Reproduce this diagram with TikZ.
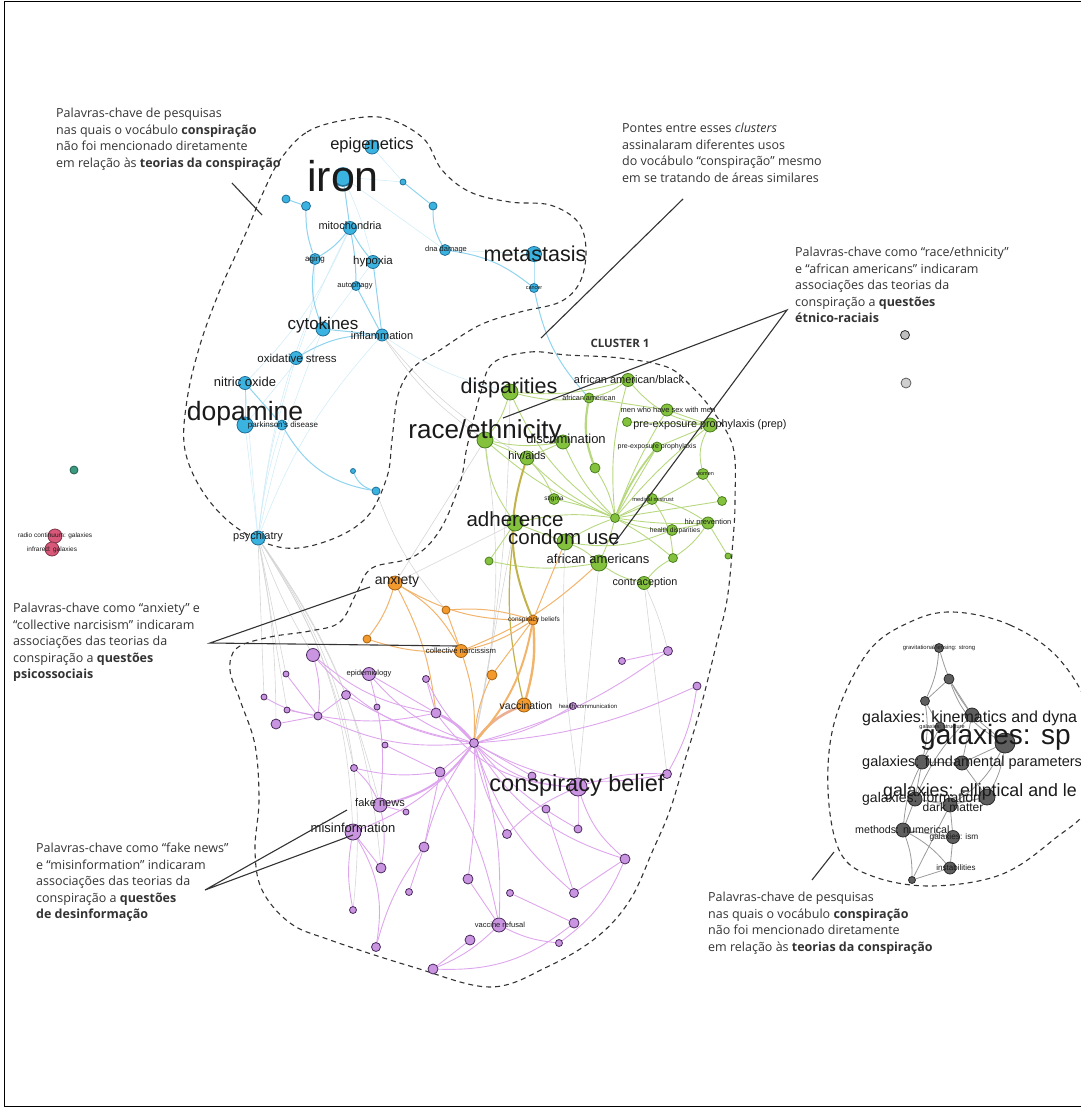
\documentclass[tikz,border=0pt]{standalone}
\usepackage{fontspec}
\setmainfont{Open Sans}
\newfontfamily\netfont{Liberation Sans}
\usetikzlibrary{backgrounds}

\definecolor{nodeB}{HTML}{3BB3E0}
\definecolor{nodeBd}{HTML}{1F6F98}
\definecolor{nodeG}{HTML}{84C23E}
\definecolor{nodeGd}{HTML}{4A7F20}
\definecolor{nodeO}{HTML}{F39A2E}
\definecolor{nodeOd}{HTML}{A8620F}
\definecolor{nodeP}{HTML}{C994E0}
\definecolor{nodePd}{HTML}{4A2A5E}
\definecolor{nodeK}{HTML}{5E5E5E}
\definecolor{nodeKd}{HTML}{2A2A2A}
\definecolor{nodeR}{HTML}{D9587A}
\definecolor{nodeT}{HTML}{3A9B80}
\definecolor{edgeB}{HTML}{8FD3EE}
\definecolor{edgeG}{HTML}{B7D87F}
\definecolor{edgeY}{HTML}{C2B24A}
\definecolor{edgeO}{HTML}{F2B36B}
\definecolor{edgeP}{HTML}{DDA6ED}
\definecolor{edgeK}{HTML}{9A9A9A}
\definecolor{edgeX}{HTML}{D6D6D6}
\definecolor{labtext}{HTML}{1A1A1A}
\definecolor{notetext}{HTML}{333333}

\begin{document}
\begin{tikzpicture}[x=1pt,y=-1pt,
    kw/.style={circle, inner sep=0pt, minimum size=#1, line width=0.8pt},
    kwB/.style={kw=#1, fill=nodeB, draw=nodeBd},
    kwG/.style={kw=#1, fill=nodeG, draw=nodeGd},
    kwO/.style={kw=#1, fill=nodeO, draw=nodeOd},
    kwP/.style={kw=#1, fill=nodeP, draw=nodePd},
    kwK/.style={kw=#1, fill=nodeK, draw=nodeKd},
    kwR/.style={kw=#1, fill=nodeR, draw=nodeR!60!black},
    lab/.style={font=\netfont\fontsize{#1}{#1}\selectfont, inner sep=0pt, text=labtext},
    note/.style={font=\fontsize{12.5}{16.5}\selectfont, align=left, anchor=north west, inner sep=0pt, text=notetext},
    pointer/.style={draw=notetext, line width=1.1pt},
    hull/.style={draw=notetext, line width=1.1pt, dash pattern=on 5pt off 4pt},
    eB/.style={draw=edgeB, line width=1pt},
    eBf/.style={draw=edgeB!45, line width=0.5pt},
    eG/.style={draw=edgeG, line width=0.9pt},
    eO/.style={draw=edgeO, line width=1pt},
    eP/.style={draw=edgeP, line width=0.9pt},
    eK/.style={draw=edgeK, line width=0.8pt},
    eX/.style={draw=edgeX, line width=0.6pt}]

    \clip (0,0) rectangle (1081,1108);
    \draw[line width=1pt] (1081,2) -- (4,2) -- (4,1106) -- (1081,1106);

    % --- cluster hulls ---
    \draw[hull] plot[smooth cycle, tension=0.6] coordinates {(280,160) (307,132) (345,120) (385,118) (423,138) (442,170) (470,192) (510,202) (550,205) (578,222) (586,250) (580,282) (560,302) (520,312) (480,325) (440,350) (413,368) (398,395) (392,440) (387,477) (367,517) (330,540) (285,548) (240,530) (205,495) (185,450) (187,400) (200,345) (220,290) (245,235) (262,195)};
    \draw[hull] plot[smooth cycle, tension=0.6] coordinates {(493,363) (530,352) (567,355) (620,358) (667,367) (690,385) (712,410) (733,447) (735,500) (733,540) (727,600) (715,650) (700,710) (685,760) (670,810) (653,850) (630,900) (597,937) (547,967) (490,987) (413,967) (330,940) (290,923) (262,890) (255,850) (259,800) (255,745) (240,700) (230,670) (237,648) (270,637) (310,631) (340,622) (357,592) (372,568) (413,557) (440,530) (460,483) (467,447) (480,395)};
    \draw[hull] plot[smooth cycle, tension=0.6] coordinates {(953,612) (1010,625) (1060,660) (1092,720) (1092,800) (1053,840) (1000,875) (930,886) (872,876) (840,852) (828,790) (835,720) (868,652) (910,622)};

    % --- blue cluster ---
    \node[kwB=14] (epigen) at (372,147) {};
    \node[kwB=18, line width=1.6pt] (iron) at (343,177) {};
    \node[kwB=8] (bA) at (286,199) {};
    \node[kwB=9] (bB) at (306,206) {};
    \node[kwB=6] (bC) at (403,182) {};
    \node[kwB=8] (bD) at (433,206) {};
    \node[kwB=11] (dna) at (445,250) {};
    \node[kwB=13] (mito) at (350,228) {};
    \node[kwB=11] (aging) at (315,259) {};
    \node[kwB=13] (hypox) at (373,262) {};
    \node[kwB=9] (autoph) at (356,286) {};
    \node[kwB=14] (cytok) at (323,329) {};
    \node[kwB=12] (inflam) at (382,335) {};
    \node[kwB=13] (oxid) at (296,358) {};
    \node[kwB=13] (nitric) at (245,383) {};
    \node[kwB=16] (dopa) at (245,425) {};
    \node[kwB=10] (parkin) at (282,425) {};
    \node[kwB=15] (metast) at (534,254) {};
    \node[kwB=9] (cancer) at (534,288) {};
    \node[kwB=5] (bE) at (353,471) {};
    \node[kwB=8] (bF) at (376,491) {};
    \node[kwB=14] (psych) at (258,538) {};

    % --- isolated nodes ---
    \node[kw=8, fill=nodeT, draw=nodeT!60!black] (tealA) at (74,470) {};
    \node[kwR=14] (radio) at (55,536) {};
    \node[kwR=14] (infra) at (52,549) {};
    \node[kw=9, fill=nodeK!40, draw=nodeKd] (isoA) at (905,335) {};
    \node[kw=10, fill=nodeK!30, draw=nodeK] (isoB) at (906,383) {};

    % --- green cluster ---
    \node[kwG=16] (disp) at (510,392) {};
    \node[kwG=13] (aablk) at (628,380) {};
    \node[kwG=10] (aam) at (589,398) {};
    \node[kwG=12] (msmw) at (667,410) {};
    \node[kwG=9] (gA) at (627,422) {};
    \node[kwG=14] (prepL) at (710,425) {};
    \node[kwG=16] (race) at (485,440) {};
    \node[kwG=14] (discr) at (563,442) {};
    \node[kwG=10] (prepS) at (657,447) {};
    \node[kwG=14] (aids) at (527,458) {};
    \node[kwG=10] (msm) at (595,468) {};
    \node[kwG=11] (women) at (703,474) {};
    \node[kwG=11] (stigma) at (554,499) {};
    \node[kwG=11] (mistr) at (652,499) {};
    \node[kwG=9] (gB) at (722,501) {};
    \node[kwG=9] (hivH) at (615,518) {};
    \node[kwG=16] (adher) at (515,523) {};
    \node[kwG=16] (condom) at (565,542) {};
    \node[kwG=11] (hdisp) at (672,530) {};
    \node[kwG=12] (hivprev) at (708,523) {};
    \node[kwG=8] (gC) at (489,561) {};
    \node[kwG=16] (aams) at (599,563) {};
    \node[kwG=9] (gD) at (673,558) {};
    \node[kwG=6] (gE) at (728,556) {};
    \node[kwG=13] (contra) at (644,583) {};

    % --- orange cluster ---
    \node[kwO=14] (anx) at (395,583) {};
    \node[kwO=8] (oA) at (446,610) {};
    \node[kwO=8] (oB) at (367,639) {};
    \node[kwO=10] (cbs) at (533,620) {};
    \node[kwO=13] (narc) at (461,651) {};
    \node[kwO=10] (oC) at (492,675) {};
    \node[kwO=14] (vacc) at (524,705) {};

    % --- purple cluster ---
    \node[kwP=13] (paran) at (313,655) {};
    \node[kwP=13] (epid) at (369,674) {};
    \node[kwP=6] (pA) at (286,674) {};
    \node[kwP=7] (pB) at (426,679) {};
    \node[kwP=6] (pC) at (264,697) {};
    \node[kwP=9] (pD) at (346,695) {};
    \node[kwP=6] (pE) at (377,707) {};
    \node[kwP=6] (pF) at (287,710) {};
    \node[kwP=8] (pG) at (318,716) {};
    \node[kwP=10] (pH) at (276,724) {};
    \node[kwP=10] (pI) at (436,713) {};
    \node[kwP=9] (pHub) at (474,743) {};
    \node[kwP=6] (pJ) at (385,745) {};
    \node[kwP=7] (pK) at (354,768) {};
    \node[kwP=10] (pL) at (440,772) {};
    \node[kwP=8] (pM) at (532,776) {};
    \node[kwP=18] (cbel) at (578,787) {};
    \node[kwP=9] (pN) at (667,774) {};
    \node[kwP=14] (fake) at (380,805) {};
    \node[kwP=6] (pO) at (406,812) {};
    \node[kwP=8] (pQ) at (546,809) {};
    \node[kwP=16] (misinf) at (353,832) {};
    \node[kwP=9] (pR) at (507,834) {};
    \node[kwP=8] (pS) at (578,829) {};
    \node[kwP=10] (pT) at (424,847) {};
    \node[kwP=10] (pU) at (625,859) {};
    \node[kwP=10] (pV) at (381,868) {};
    \node[kwP=10] (pW) at (468,879) {};
    \node[kwP=7] (pX) at (409,892) {};
    \node[kwP=7] (pY) at (510,893) {};
    \node[kwP=9] (pZ) at (574,893) {};
    \node[kwP=7] (pAA) at (353,910) {};
    \node[kwP=14] (vaxref) at (499,925) {};
    \node[kwP=10] (pAB) at (574,923) {};
    \node[kwP=10] (pAC) at (470,940) {};
    \node[kwP=7] (pAD) at (559,943) {};
    \node[kwP=9] (pAE) at (376,947) {};
    \node[kwP=10] (pAF) at (433,969) {};
    \node[kwP=9] (pAG) at (668,651) {};
    \node[kwP=7] (pAH) at (622,661) {};
    \node[kwP=8] (pAI) at (697,686) {};
    \node[kwP=7] (hcomm) at (573,706) {};

    % --- gray cluster ---
    \node[kwK=9] (grav) at (939,648) {};
    \node[kwK=10] (kA) at (949,679) {};
    \node[kwK=9] (kB) at (925,701) {};
    \node[kwK=14] (kinem) at (972,715) {};
    \node[kwK=10] (gstruct) at (940,727) {};
    \node[kwK=20] (gsp) at (1005,743) {};
    \node[kwK=14] (fund) at (922,762) {};
    \node[kwK=14] (kC) at (962,763) {};
    \node[kwK=16] (ellip) at (987,797) {};
    \node[kwK=14] (form) at (915,799) {};
    \node[kwK=14] (dark) at (950,805) {};
    \node[kwK=14] (meth) at (903,830) {};
    \node[kwK=13] (ism) at (953,837) {};
    \node[kwK=12] (instab) at (950,868) {};
    \node[kwK=7] (kD) at (912,880) {};

    % --- edges ---
    \begin{pgfonlayer}{background}
        \foreach \a/\b/\c in {psych/pA/0, psych/pC/0, psych/pH/5, psych/pF/0, psych/pK/10, psych/fake/10,
            psych/misinf/15, psych/paran/-5, race/pHub/10, disp/pHub/5, race/anx/0, adher/anx/0,
            aams/cbel/0, contra/pN/0, psych/pAA/20, psych/pV/15, inflam/aids/-10, inflam/race/-10,
            bF/oA/-10, adher/pHub/0, condom/cbel/-5, contra/pAG/5}
            \draw[eX] (\a) to[bend left=\c] (\b);
        \foreach \a/\b/\c in {psych/oxid/5, psych/cytok/5, psych/nitric/0, psych/dopa/0, psych/parkin/5,
            psych/inflam/10, psych/mito/10, cytok/hypox/0, nitric/mito/-10, dopa/cytok/0, iron/dna/0,
            iron/hypox/5, epigen/bC/0, inflam/disp/-10, metast/dna/0, iron/bC/0, aging/oxid/10}
            \draw[eBf] (\a) to[bend left=\c] (\b);
        \foreach \a/\b/\c in {iron/mito/0, bA/bB/0, bB/aging/-10, mito/aging/10, mito/hypox/-5,
            mito/autoph/5, hypox/inflam/0, autoph/inflam/0, cytok/inflam/0, aging/cytok/-15,
            bC/bD/0, bD/dna/-15, dna/cancer/15, cancer/metast/0, inflam/oxid/-15, nitric/dopa/0,
            nitric/parkin/0, parkin/bF/-25, bE/bF/-25, dopa/parkin/0, cancer/aam/-15}
            \draw[eB] (\a) to[bend left=\c] (\b);
        \foreach \a/\b/\c in {hivH/prepL/5, hivH/msmw/5, hivH/prepS/0, hivH/women/-5, hivH/mistr/0,
            hivH/hivprev/-5, hivH/hdisp/-10, hivH/aams/5, hivH/condom/-5, hivH/stigma/-5, hivH/msm/-10,
            hivH/aids/10, hivH/aablk/10, hivH/gB/0, hivH/discr/10, hivH/disp/15, hivH/race/10,
            hivH/adher/-10, hivH/gD/5, aids/discr/0, race/discr/-10, race/aids/0, disp/aam/-10,
            aam/aablk/-10, aablk/prepL/-20, msmw/prepL/0, gA/prepL/0, msmw/aam/0, condom/aams/10,
            adher/condom/0, aams/contra/-10, condom/hdisp/-15, hdisp/hivprev/0, gD/hivprev/-10,
            gE/hivprev/0, women/gB/0, mistr/gD/15, stigma/aids/-10, gC/adher/0, gC/aams/-10,
            race/adher/-15, disp/race/10, women/prepL/20, mistr/hivprev/10, prepS/prepL/0,
            aablk/disp/10, contra/gD/10}
            \draw[eG] (\a) to[bend left=\c] (\b);
        \draw[eG, line width=2.2pt] (msm) to[bend left=15] (aam);
        \draw[eG, line width=1.8pt] (hivH) to[bend left=8] (prepS);
        \draw[draw=edgeY, line width=2pt] (aids) to[bend right=20] (cbs);
        \draw[draw=edgeY, line width=1.2pt] (adher) to[bend right=10] (vacc);
        \foreach \a/\b/\c in {cbs/narc/10, cbs/oA/-10, cbs/oC/0, anx/narc/15, anx/cbs/-15,
            narc/pHub/10, oC/pHub/-10, oB/narc/-10, anx/oB/10, oA/narc/0, anx/pI/10,
            cbs/condom/0, narc/aams/-10}
            \draw[eO] (\a) to[bend left=\c] (\b);
        \draw[eO, line width=2.4pt] (cbs) to[bend left=10] (vacc);
        \draw[draw=edgeO!70!edgeP, line width=2.6pt] (vacc) to[bend left=-15] (pHub);
        \draw[eO, line width=2pt] (cbs) to[bend left=15] (pHub);
        \foreach \a/\b/\c in {pHub/misinf/15, pHub/cbel/-20, pHub/vaxref/10, pHub/pW/5, pHub/epid/15,
            pHub/pB/10, pHub/paran/20, pHub/pT/-10, pHub/pL/0, pHub/pR/-10, pHub/pZ/-15, pHub/pU/-20,
            pHub/pN/-20, pHub/pD/10, pHub/pG/15, pHub/pM/0, pHub/pS/-10, pHub/pAG/-10, pHub/pAI/-10,
            pHub/hcomm/-10, pI/pB/0, pI/paran/15, pI/pG/10, pG/pA/0, pG/pC/10, pG/pF/0, pG/pD/0,
            paran/pG/10, epid/pI/0, pL/pT/0, fake/pV/10, misinf/pV/0, misinf/pAA/-10, pW/vaxref/0,
            vaxref/pAF/10, vaxref/pAD/-10, pZ/pU/0, cbel/pN/10, cbel/pS/0, pQ/pZ/0, pAE/pT/10,
            pX/pT/0, pY/pAB/0, pAC/pAF/0, pK/fake/10, pH/pG/0, pK/pL/-10, pJ/pL/0, pO/fake/0,
            pR/cbel/10, pU/cbel/15, pAE/misinf/-20, pAF/pAB/-20, pAD/pU/-15, pAH/pAG/0,
            pAI/pN/10, pI/cbel/-25, pL/vaxref/10, epid/fake/10}
            \draw[eP] (\a) to[bend left=\c] (\b);
        \draw[eP, line width=2.6pt] (pHub) to[bend left=-12] (pI);
        \draw[eP, line width=2pt] (pHub) to[bend left=20] (fake);
        \foreach \a/\b/\c in {grav/kB/10, grav/kinem/-10, kA/kB/0, kA/kinem/0, kA/gsp/-20,
            kB/gstruct/0, kinem/gsp/0, gstruct/fund/0, fund/kC/0, fund/form/0, kC/ellip/0,
            ellip/dark/0, form/meth/0, form/dark/0, dark/ism/0, meth/instab/10, ism/instab/0,
            gsp/ellip/10, fund/meth/-10, kinem/kC/0, gsp/kC/0, meth/ism/0, form/ellip/-10,
            dark/kD/0, meth/kD/10, kB/fund/10, gsp/dark/15, kinem/form/-10, instab/kD/0}
            \draw[eK] (\a) to[bend left=\c] (\b);
    \end{pgfonlayer}

    % --- keyword labels ---
    \node[lab=16.5] (Lepigen) at (372,145) {epigenetics};
    \node[lab=43] (Liron) at (343,176) {iron};
    \node[lab=7.5] (Ldna) at (446,250) {dna damage};
    \node[lab=11] (Lmito) at (350,226) {mitochondria};
    \node[lab=8] (Laging) at (315,259) {aging};
    \node[lab=11.5] (Lhypox) at (373,262) {hypoxia};
    \node[lab=7.5] (Lautoph) at (355,286) {autophagy};
    \node[lab=17] (Lcytok) at (323,325) {cytokines};
    \node[lab=11] (Linflam) at (382,336) {inflammation};
    \node[lab=11.5] (Loxid) at (297,358) {oxidative stress};
    \node[lab=13] (Lnitric) at (245,382) {nitric oxide};
    \node[lab=26.5] (Ldopa) at (245,414) {dopamine};
    \node[lab=8] (Lparkin) at (283,425) {parkinson's disease};
    \node[lab=21.5] (Lmetast) at (535,254) {metastasis};
    \node[lab=5.5] (Lcancer) at (534,288) {cancer};
    \node[lab=11] (Lpsych) at (258,537) {psychiatry};
    \node[lab=6.5] (Lradio) at (55,536) {radio continuum: galaxies};
    \node[lab=6.5] (Linfra) at (52,550) {infrared: galaxies};

    \node[lab=21.5] (Ldisp) at (509,388) {disparities};
    \node[lab=11] (Laablk) at (629,380) {african american/black};
    \node[lab=7.2] (Laam) at (589,398) {african american};
    \node[lab=7.5] (Lmsmw) at (668,410) {men who have sex with men};
    \node[lab=10.8] (LprepL) at (710,425) {pre-exposure prophylaxis (prep)};
    \node[lab=26] (Lrace) at (485,432) {race/ethnicity};
    \node[lab=13] (Ldiscr) at (566,439) {discrimination};
    \node[lab=7] (LprepS) at (657,447) {pre-exposure prophylaxis};
    \node[lab=11] (Laids) at (527,456) {hiv/aids};
    \node[lab=5.5] (Lwomen) at (705,474) {women};
    \node[lab=6.5] (Lstigma) at (554,499) {stigma};
    \node[lab=5.7] (Lmistr) at (653,499) {medical mistrust};
    \node[lab=20.5] (Ladher) at (515,519) {adherence};
    \node[lab=20.5] (Lcondom) at (564,537) {condom use};
    \node[lab=6.7] (Lhdisp) at (675,531) {health disparities};
    \node[lab=7.5] (Lhivprev) at (708,523) {hiv prevention};
    \node[lab=13] (Laams) at (598,559) {african americans};
    \node[lab=10.8] (Lcontra) at (645,583) {contraception};

    \node[lab=14] (Lanx) at (397,581) {anxiety};
    \node[lab=6.5] (Lcbs) at (534,620) {conspiracy beliefs};
    \node[lab=7.7] (Lnarc) at (461,651) {collective narcissism};
    \node[lab=10.5] (Lvacc) at (526,706) {vaccination};
    \node[lab=6] (Lhcomm) at (588,706) {health communication};
    \node[lab=7.6] (Lepid) at (369,674) {epidemiology};
    \node[lab=23.5] (Lcbel) at (577,785) {conspiracy belief};
    \node[lab=11] (Lfake) at (380,803) {fake news};
    \node[lab=13] (Lmisinf) at (353,828) {misinformation};
    \node[lab=7.5] (Lvaxref) at (500,925) {vaccine refusal};

    \node[lab=5.9] (Lgrav) at (939,648) {gravitational lensing: strong};
    \node[lab=16, anchor=west] (Lkinem) at (862,718) {galaxies: kinematics and dyna};
    \node[lab=5.5] (Lgstruct) at (942,727) {galaxies: structure};
    \node[lab=28, anchor=west] (Lgsp) at (920,737) {galaxies: sp};
    \node[lab=14.5, anchor=west] (Lfund) at (862,763) {galaxies: fundamental parameters};
    \node[lab=17.8, anchor=west] (Lellip) at (883,792) {galaxies: elliptical and le};
    \node[lab=14, anchor=west] (Lform) at (862,799) {galaxies: formation};
    \node[lab=12] (Ldark) at (953,807) {dark matter};
    \node[lab=10.7, anchor=west] (Lmeth) at (855,830) {methods: numerical};
    \node[lab=8.3] (Lism) at (954,837) {galaxies: ism};
    \node[lab=8] (Linstab) at (956,868) {instabilities};

    \node[font=\bfseries\fontsize{11.5}{12}\selectfont, text=notetext, inner sep=0pt] (clusterA) at (620,343) {CLUSTER 1};

    % --- annotations ---
    \node[note] (noteTL) at (56,108) {Palavras-chave de pesquisas\\nas quais o vocábulo \textbf{conspiração}\\não foi mencionado diretamente\\em relação às \textbf{teorias da conspiração}};
    \node[note] (noteBridge) at (622,123) {Pontes entre esses \textit{clusters}\\assinalaram diferentes usos\\do vocábulo “conspiração” mesmo\\em se tratando de áreas similares};
    \node[note] (noteRace) at (795,247) {Palavras-chave como “race/ethnicity”\\e “african americans” indicaram\\associações das teorias da\\conspiração a \textbf{questões}\\\textbf{étnico-raciais}};
    \node[note] (notePsy) at (13,603) {Palavras-chave como “anxiety” e\\“collective narcisism” indicaram\\associações das teorias da\\conspiração a \textbf{questões}\\\textbf{psicossociais}};
    \node[note] (noteFake) at (36,843) {Palavras-chave como “fake news”\\e “misinformation” indicaram\\associações das teorias da\\conspiração a \textbf{questões}\\\textbf{de desinformação}};
    \node[note] (noteBR) at (708,892) {Palavras-chave de pesquisas\\nas quais o vocábulo \textbf{conspiração}\\não foi mencionado diretamente\\em relação às \textbf{teorias da conspiração}};

    \coordinate (tlA) at (232,183);
    \coordinate (tlB) at (262,215);
    \coordinate (brA) at (683,199);
    \coordinate (brB) at (541,338);
    \coordinate (raceTip) at (787,310);
    \coordinate (raceA) at (503,418);
    \coordinate (raceB) at (613,545);
    \coordinate (psyTip) at (210,643);
    \coordinate (psyA) at (370,587);
    \coordinate (psyB) at (457,646);
    \coordinate (fakeTip) at (205,890);
    \coordinate (fakeA) at (347,810);
    \coordinate (fakeB) at (353,835);
    \coordinate (gxA) at (834,852);
    \coordinate (gxB) at (812,880);

    \draw[pointer] (tlA) -- (tlB);
    \draw[pointer] (brA) -- (brB);
    \draw[pointer] (raceA) -- (raceTip) -- (raceB);
    \draw[pointer] (psyA) -- (psyTip) -- (psyB);
    \draw[pointer] (fakeA) -- (fakeTip) -- (fakeB);
    \draw[pointer] (gxA) -- (gxB);
\end{tikzpicture}
\end{document}
